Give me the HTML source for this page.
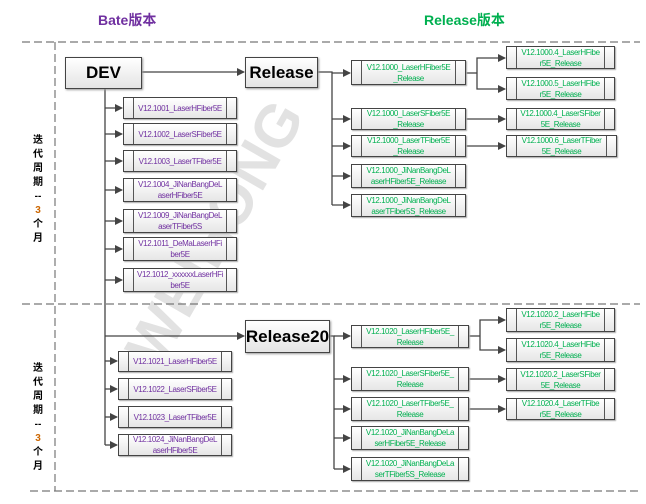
<!DOCTYPE html>
<html><head><meta charset="utf-8"><style>
body{margin:0;width:646px;height:504px;background:#fff;position:relative;overflow:hidden;font-family:"Liberation Sans","Noto Sans CJK SC",sans-serif}
.b{position:absolute;box-sizing:border-box;border:1px solid #444;background:linear-gradient(#fff,#e6e6e6);display:flex;align-items:center;justify-content:center;text-align:center;font-size:8px;letter-spacing:-0.4px;line-height:11px;box-shadow:1px 1px 1px #aaa}
.b::before,.b::after{content:"";position:absolute;top:0;bottom:0;width:1px;background:#555}
.b::before{left:9px}.b::after{right:9px}
.p{color:#7030a0}.g{color:#00b050}
.big{position:absolute;box-sizing:border-box;border:1px solid #444;background:linear-gradient(#fff,#e4e4e4);font-weight:bold;display:flex;align-items:center;justify-content:center;font-size:17px;box-shadow:1px 1px 2px #999}
.t{position:absolute;font-weight:bold;font-size:14px}
.v{position:absolute;font-weight:bold;font-size:10px;width:14px;text-align:center;line-height:14px}
</style></head><body>
<div style="position:absolute;left:168px;top:375px;font-size:60px;font-weight:bold;color:#e2e2e2;transform:rotate(-60deg);transform-origin:left bottom;white-space:nowrap;letter-spacing:0px;line-height:60px;margin-top:-60px">WEIHONG</div>
<div class="t p" style="left:98px;top:10px">Bate版本</div>
<div class="t g" style="left:424px;top:10px">Release版本</div>
<svg width="646" height="504" style="position:absolute;left:0;top:0">
<defs><marker id="a" markerWidth="8" markerHeight="8" refX="7" refY="4" orient="auto" markerUnits="userSpaceOnUse"><path d="M0,0L8,4L0,8z" fill="#444"/></marker></defs>
<g stroke="#777" stroke-dasharray="8,4" fill="none" stroke-width="1.2">
<line x1="22" y1="42" x2="640" y2="42"/><line x1="22" y1="304" x2="640" y2="304"/><line x1="30" y1="491" x2="640" y2="491"/><line x1="55" y1="42" x2="55" y2="491"/></g>
<g stroke="#444" fill="none" stroke-width="1.3" marker-end="url(#a)">
<line x1="142" y1="72" x2="244" y2="72"/>
<line x1="105" y1="108" x2="122" y2="108"/><line x1="105" y1="134" x2="122" y2="134"/><line x1="105" y1="161" x2="122" y2="161"/><line x1="105" y1="190" x2="122" y2="190"/><line x1="105" y1="221" x2="122" y2="221"/><line x1="105" y1="249" x2="122" y2="249"/><line x1="105" y1="280" x2="122" y2="280"/>
<line x1="105" y1="336" x2="244" y2="336"/>
<line x1="105" y1="361" x2="117" y2="361"/><line x1="105" y1="389" x2="117" y2="389"/><line x1="105" y1="417" x2="117" y2="417"/><line x1="105" y1="445" x2="117" y2="445"/>
<line x1="332" y1="73" x2="350" y2="73"/><line x1="332" y1="119" x2="350" y2="119"/><line x1="332" y1="146" x2="350" y2="146"/><line x1="332" y1="176" x2="350" y2="176"/><line x1="332" y1="205" x2="350" y2="205"/>
<polyline points="477,73 477,58 505,58"/><polyline points="477,73 477,89 505,89"/><line x1="466" y1="119" x2="505" y2="119"/><line x1="466" y1="146" x2="505" y2="146"/>
<line x1="334" y1="336" x2="350" y2="336"/><line x1="334" y1="379" x2="350" y2="379"/><line x1="334" y1="409" x2="350" y2="409"/><line x1="334" y1="438" x2="350" y2="438"/><line x1="334" y1="469" x2="350" y2="469"/>
<polyline points="480,336 480,320 505,320"/><polyline points="480,336 480,350 505,350"/><line x1="469" y1="379" x2="505" y2="379"/><line x1="469" y1="409" x2="505" y2="409"/>
</g>
<g stroke="#444" fill="none" stroke-width="1.3">
<line x1="105" y1="89" x2="105" y2="445"/>
<polyline points="318,72 332,72 332,205"/><line x1="466" y1="73" x2="477" y2="73"/>
<polyline points="330,336 334,336 334,469"/><line x1="469" y1="336" x2="480" y2="336"/>
</g></svg>
<div class="v" style="left:31px;top:134px">迭<br>代<br>周<br>期<br>--<br><span style="color:#c60">3</span><br>个<br>月</div>
<div class="v" style="left:31px;top:362px">迭<br>代<br>周<br>期<br>--<br><span style="color:#c60">3</span><br>个<br>月</div>
<div class="big" style="left:65px;top:57px;width:77px;height:32px">DEV</div>
<div class="big" style="left:245px;top:57px;width:73px;height:31px">Release</div>
<div class="big" style="left:245px;top:320px;width:85px;height:33px">Release20</div>
<div class="b p" style="left:123px;top:97px;width:114px;height:22px">V12.1001_LaserHFiber5E</div>
<div class="b p" style="left:123px;top:123px;width:114px;height:22px">V12.1002_LaserSFiber5E</div>
<div class="b p" style="left:123px;top:150px;width:114px;height:22px">V12.1003_LaserTFiber5E</div>
<div class="b p" style="left:123px;top:178px;width:114px;height:24px">V12.1004_JiNanBangDeL<br>aserHFiber5E</div>
<div class="b p" style="left:123px;top:209px;width:114px;height:24px">V12.1009_JiNanBangDeL<br>aserTFiber5S</div>
<div class="b p" style="left:123px;top:237px;width:114px;height:24px">V12.1011_DeMaLaserHFi<br>ber5E</div>
<div class="b p" style="left:123px;top:268px;width:114px;height:24px">V12.1012_xxxxxxLaserHFi<br>ber5E</div>
<div class="b p" style="left:118px;top:351px;width:114px;height:21px">V12.1021_LaserHFiber5E</div>
<div class="b p" style="left:118px;top:378px;width:114px;height:22px">V12.1022_LaserSFiber5E</div>
<div class="b p" style="left:118px;top:406px;width:114px;height:22px">V12.1023_LaserTFiber5E</div>
<div class="b p" style="left:118px;top:434px;width:114px;height:22px">V12.1024_JiNanBangDeL<br>aserHFiber5E</div>
<div class="b g" style="left:351px;top:60px;width:115px;height:25px">V12.1000_LaserHFiber5E<br>_Release</div>
<div class="b g" style="left:351px;top:108px;width:115px;height:22px">V12.1000_LaserSFiber5E<br>_Release</div>
<div class="b g" style="left:351px;top:135px;width:115px;height:22px">V12.1000_LaserTFiber5E<br>_Release</div>
<div class="b g" style="left:351px;top:164px;width:115px;height:24px">V12.1000_JiNanBangDeL<br>aserHFiber5E_Release</div>
<div class="b g" style="left:351px;top:194px;width:115px;height:23px">V12.1000_JiNanBangDeL<br>aserTFiber5S_Release</div>
<div class="b g" style="left:506px;top:46px;width:109px;height:23px">V12.1000.4_LaserHFibe<br>r5E_Release</div>
<div class="b g" style="left:506px;top:77px;width:109px;height:23px">V12.1000.5_LaserHFibe<br>r5E_Release</div>
<div class="b g" style="left:506px;top:108px;width:109px;height:22px">V12.1000.4_LaserSFiber<br>5E_Release</div>
<div class="b g" style="left:506px;top:135px;width:111px;height:22px">V12.1000.6_LaserTFiber<br>5E_Release</div>
<div class="b g" style="left:351px;top:325px;width:118px;height:23px">V12.1020_LaserHFiber5E_<br>Release</div>
<div class="b g" style="left:351px;top:367px;width:118px;height:24px">V12.1020_LaserSFiber5E_<br>Release</div>
<div class="b g" style="left:351px;top:397px;width:118px;height:24px">V12.1020_LaserTFiber5E_<br>Release</div>
<div class="b g" style="left:351px;top:426px;width:118px;height:24px">V12.1020_JiNanBangDeLa<br>serHFiber5E_Release</div>
<div class="b g" style="left:351px;top:457px;width:118px;height:24px">V12.1020_JiNanBangDeLa<br>serTFiber5S_Release</div>
<div class="b g" style="left:506px;top:308px;width:109px;height:24px">V12.1020.2_LaserHFibe<br>r5E_Release</div>
<div class="b g" style="left:506px;top:338px;width:109px;height:24px">V12.1020.4_LaserHFibe<br>r5E_Release</div>
<div class="b g" style="left:506px;top:368px;width:109px;height:23px">V12.1020.2_LaserSFiber<br>5E_Release</div>
<div class="b g" style="left:506px;top:398px;width:109px;height:22px">V12.1020.4_LaserTFibe<br>r5E_Release</div>
</body></html>
